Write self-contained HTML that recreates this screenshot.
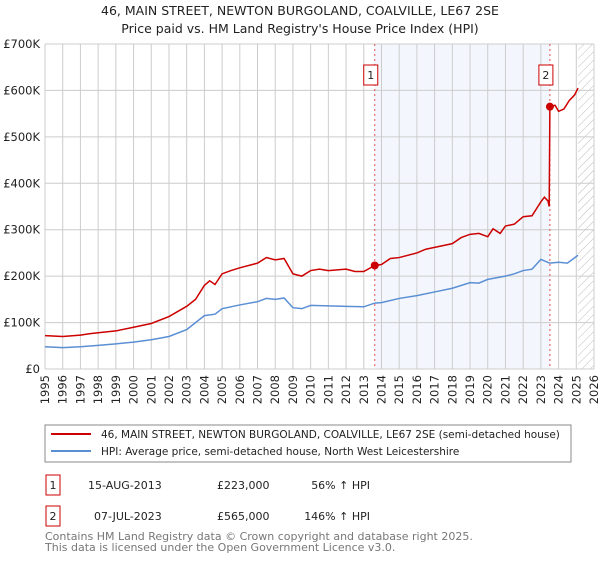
<!DOCTYPE html>
<html><head><meta charset="utf-8"><style>
body{margin:0;background:#fff;font-family:"DejaVu Sans","Liberation Sans",sans-serif;}
svg text{font-family:"DejaVu Sans","Liberation Sans",sans-serif;}
</style></head><body>
<svg id="chart" width="600" height="560">
<defs><pattern id="hatch" width="6" height="6" patternUnits="userSpaceOnUse" patternTransform="rotate(45)"><line x1="0" y1="0" x2="0" y2="6" stroke="#bbb" stroke-width="1"/></pattern></defs>
<text x="300" y="15" text-anchor="middle" font-size="12.5" fill="#222">46, MAIN STREET, NEWTON BURGOLAND, COALVILLE, LE67 2SE</text>
<text x="300" y="33" text-anchor="middle" font-size="12.5" fill="#222">Price paid vs. HM Land Registry's House Price Index (HPI)</text>
<g id="plot"></g>
<rect x="45" y="425" width="526" height="37" fill="#fff" stroke="#888"/>
<line x1="51" y1="434" x2="91" y2="434" stroke="#cc0000" stroke-width="2"/>
<text x="101" y="438" font-size="10.5" fill="#222">46, MAIN STREET, NEWTON BURGOLAND, COALVILLE, LE67 2SE (semi-detached house)</text>
<line x1="51" y1="451" x2="91" y2="451" stroke="#5b8fd4" stroke-width="2"/>
<text x="101" y="455" font-size="10.5" fill="#222">HPI: Average price, semi-detached house, North West Leicestershire</text>
<g>
<rect x="46" y="475" width="14" height="20" fill="#fff" stroke="#cc0000"/>
<text x="53" y="489" text-anchor="middle" font-size="11" fill="#222">1</text>
<text x="88" y="489" font-size="11" fill="#222">15-AUG-2013</text>
<text x="217" y="489" font-size="11" fill="#222">£223,000</text>
<text x="370" y="489" text-anchor="end" font-size="11" fill="#222">56% ↑ HPI</text></g>
<g>
<rect x="46" y="506" width="14" height="20" fill="#fff" stroke="#cc0000"/>
<text x="53" y="520" text-anchor="middle" font-size="11" fill="#222">2</text>
<text x="94" y="520" font-size="11" fill="#222">07-JUL-2023</text>
<text x="217" y="520" font-size="11" fill="#222">£565,000</text>
<text x="370" y="520" text-anchor="end" font-size="11" fill="#222">146% ↑ HPI</text></g>
<text x="45" y="540" font-size="11" fill="#777">Contains HM Land Registry data © Crown copyright and database right 2025.</text>
<text x="45" y="551" font-size="11" fill="#777">This data is licensed under the Open Government Licence v3.0.</text>
</svg>
<script>
const priceYears=[1995,1996,1997,1997.5,1998,1999,2000,2001,2002,2003,2003.5,2004,2004.3,2004.6,2005,2005.5,2006,2007,2007.5,2008,2008.5,2009,2009.5,2010,2010.5,2011,2012,2012.5,2013,2013.62,2014,2014.5,2015,2016,2016.5,2017,2018,2018.5,2019,2019.5,2020,2020.3,2020.7,2021,2021.5,2022,2022.5,2023,2023.2,2023.4,2023.47,2023.51,2023.8,2024,2024.3,2024.6,2024.9,2025.1];
const priceValues=[72,70,73,76,78,82,90,98,113,135,150,180,190,182,205,212,218,228,240,235,238,205,200,212,215,212,215,210,210,223,225,238,240,250,258,262,270,283,290,292,285,302,292,308,312,328,330,360,370,362,350,565,568,555,560,578,590,605];
const hpiYears=[1995,1996,1997,1998,1999,2000,2001,2002,2003,2004,2004.6,2005,2006,2007,2007.5,2008,2008.5,2009,2009.5,2010,2011,2012,2013,2013.62,2014,2015,2016,2017,2018,2019,2019.5,2020,2021,2021.5,2022,2022.5,2023,2023.5,2024,2024.5,2025.1];
const hpiValues=[48,46,48,51,54,58,63,70,85,115,118,130,138,145,152,150,153,132,130,137,136,135,134,142,143,152,158,166,174,186,185,193,200,205,212,215,236,228,230,228,245];
const saleYears=[2013.62,2023.51];
const saleValues=[223,565];
const yTicks=[0,100,200,300,400,500,600,700];
const yTickLabels=["£0","£100K","£200K","£300K","£400K","£500K","£600K","£700K"];
const xTicks=[];for(let y=1995;y<=2026;y++)xTicks.push(y);
const X0=45,X1=594,Y0=369,Y1=44;
const xs=y=>X0+(y-1995)/(2026-1995)*(X1-X0);
const ys=v=>Y0-v/700*(Y0-Y1);
const NS="http://www.w3.org/2000/svg";
const g=document.getElementById('plot');
function mk(t,a,p){const e=document.createElementNS(NS,t);for(const k in a)e.setAttribute(k,a[k]);(p||g).appendChild(e);return e;}
let r=mk('rect',{x:xs(saleYears[0]),y:Y1,width:xs(saleYears[1])-xs(saleYears[0]),height:Y0-Y1,fill:'#eef3fc',opacity:0.7});


r=mk('rect',{x:xs(2025.1),y:Y1,width:X1-xs(2025.1),height:Y0-Y1,fill:'url(#hatch)'});


xTicks.forEach(t=>{const l=mk('line',{x1:xs(t),x2:xs(t),y1:Y1,y2:Y0,stroke:'#ccc'});


const tx=mk('text',{x:xs(t)+4,y:Y0+6,'text-anchor':'end','font-size':'11.5',fill:'#222',transform:'rotate(-90 '+(xs(t)+4)+' '+(Y0+6)+')'});tx.textContent=t;

});
yTicks.forEach((t,i)=>{const l=mk('line',{x1:X0,x2:X1,y1:ys(t),y2:ys(t),stroke:'#ccc'});


const tx=mk('text',{x:X0-5,y:ys(t)+4,'text-anchor':'end','font-size':'11.5',fill:'#222'});tx.textContent=yTickLabels[i];

});
saleYears.forEach((s,i)=>{const l=mk('line',{x1:xs(s),x2:xs(s),y1:Y1,y2:Y0,stroke:'#e05050','stroke-dasharray':'2,3'});


const b=mk('rect',{x:xs(s)-11,y:65,width:14,height:20,fill:'#fff',stroke:'#cc0000'});


const t=mk('text',{x:xs(s)-4,y:79,'text-anchor':'middle','font-size':'11',fill:'#222'});t.textContent=String(i+1);

});
let p=mk('polyline',{points:hpiYears.map((y,i)=>xs(y)+','+ys(hpiValues[i])).join(' '),fill:'none',stroke:'#5b8fd4','stroke-width':1.5});


p=mk('polyline',{points:priceYears.map((y,i)=>xs(y)+','+ys(priceValues[i])).join(' '),fill:'none',stroke:'#cc0000','stroke-width':1.5});


saleYears.forEach((s,i)=>{const c=mk('circle',{cx:xs(s),cy:ys(saleValues[i]),r:4,fill:'#cc0000'});

});
</script>
</body></html>
